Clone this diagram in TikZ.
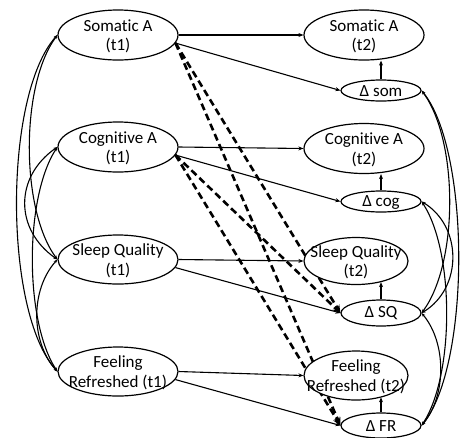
\documentclass[tikz,border=0pt]{standalone}
\usepackage{fontspec}
\setmainfont{Carlito}[Ligatures=NoCommon]
\usetikzlibrary{shapes.geometric,arrows.meta}
\pgfdeclarelayer{bg}
\pgfsetlayers{bg,main}
\begin{document}
\begin{tikzpicture}[x=1pt,y=-1pt,
  every node/.style={font=\fontsize{17}{19.5}\selectfont},
  ell/.style={ellipse,draw,fill=white,line width=1.2pt,inner sep=0pt},
  big/.style={ell,minimum width=120pt,minimum height=50pt},
  dlt/.style={ell,minimum width=80pt},
  lab/.style={align=center,inner sep=0pt,yshift=-1.5pt},
  arr/.style={line width=1.1pt,-{Stealth[length=5pt,width=4pt]}},
  cov/.style={line width=1.1pt,{Stealth[length=4pt,width=3pt]}-{Stealth[length=4pt,width=3pt]}},
  dsh/.style={line width=2.6pt,dash pattern=on 7pt off 4pt,-{Stealth[length=8pt,width=7pt]}}]
\useasboundingbox (0,0) rectangle (462,437);

% t1 nodes
\node[big] (s1) at (118,35) {};
\node[lab] (s1t) at (s1) {Somatic A\\(t1)};
\node[big] (c1) at (118,147) {};
\node[lab] (c1t) at (c1) {Cognitive A\\(t1)};
\node[big,minimum height=49pt] (q1) at (118,259.5) {};
\node[lab] (q1t) at (q1) {Sleep Quality\\(t1)};
\node[big,minimum height=49pt] (f1) at (118,371.5) {};
\node[lab] (f1t) at (f1) {Feeling\\Refreshed (t1)};

% t2 nodes
\node[big] (s2) at (364,35) {};
\node[lab] (s2t) at (s2) {Somatic A\\(t2)};
\node[big] (c2) at (364,148.5) {};
\node[lab] (c2t) at (c2) {Cognitive A\\(t2)};
\node[ell,minimum width=104pt,minimum height=47pt] (q2) at (356,261) {};
\node[lab] (q2t) at (q2) {Sleep Quality\\(t2)};
\node[ell,minimum width=104pt,minimum height=49pt] (f2) at (356,375.5) {};
\node[lab] (f2t) at (f2) {Feeling\\Refreshed (t2)};

% delta nodes
\node[dlt,minimum height=21pt] (ds) at (381,90.5) {};
\node[lab,yshift=1pt] (dst) at (ds) {Δ som};
\node[dlt,minimum height=21pt] (dc) at (381,201.5) {};
\node[lab,yshift=1pt] (dct) at (dc) {Δ cog};
\node[dlt,minimum height=26pt] (dq) at (381,313) {};
\node[lab,yshift=1pt] (dqt) at (dq) {Δ SQ};
\node[dlt,minimum height=25pt] (dF) at (381,425.5) {};
\node[lab,yshift=1pt] (dFt) at (dF) {Δ FR};

\begin{pgfonlayer}{bg}
% paths t1 -> t2 and t1 -> delta
\draw[arr] (s1.east) -- (s2.west);
\draw[arr] (s1.-8) -- (ds.west);
\draw[arr] (c1.east) -- (c2.west);
\draw[arr] (c1.-8) -- (dc.west);
\draw[arr] (q1.east) -- (q2.west);
\draw[arr] (q1.-8) -- (dq.west);
\draw[arr] (f1.east) -- (f2.west);
\draw[arr] (f1.-8) -- (dF.west);

% delta -> t2
\draw[arr] (ds.north) -- (ds.north |- s2.south);
\draw[arr] (dc.north) -- (dc.north |- c2.south);
\draw[arr] (dq.north) -- (dq.north |- q2.-40);
\draw[arr] (dF.north) -- (dF.north |- f2.-40);

% dashed cross paths
\draw[dsh] (s1.-8) -- (dq.west);
\draw[dsh] (s1.-8) -- (dF.west);
\draw[dsh] (c1.-8) -- (dq.west);
\draw[dsh] (c1.-8) -- (dF.west);

% covariances t1
\draw[cov] (s1.west) .. controls +(-54,60) and +(-54,-60) .. (f1.west);
\draw[cov] (s1.west) .. controls +(-37,50) and +(-37,-50) .. (q1.west);
\draw[cov] (c1.west) .. controls +(-43,30) and +(-43,-30) .. (q1.west);
\draw[cov] (c1.west) .. controls +(-33,50) and +(-33,-50) .. (f1.west);
\draw[cov] (q1.west) .. controls +(-27,30) and +(-27,-30) .. (f1.west);

% covariances deltas
\draw[cov] (ds.east) .. controls +(49,60) and +(49,-60) .. (dF.east);
\draw[cov] (ds.east) .. controls +(37,50) and +(37,-50) .. (dq.east);
\draw[cov] (dc.east) .. controls +(41,25) and +(41,-25) .. (dq.east);
\draw[cov] (dc.east) .. controls +(33,50) and +(33,-50) .. (dF.east);
\draw[cov] (dq.east) .. controls +(25,30) and +(25,-30) .. (dF.east);
\end{pgfonlayer}
\end{tikzpicture}
\end{document}
